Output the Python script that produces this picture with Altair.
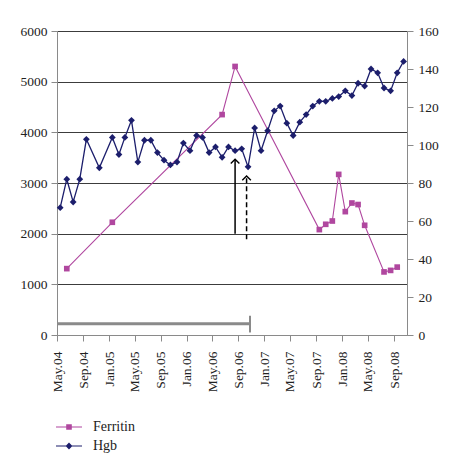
import altair as alt
import pandas as pd

# ---------------- data ----------------
series_names = ["Ferritin", "Hgb"]
series_colors = ["#B0479F", "#1C1E6C"]

hgb_months = [
    "2004-05", "2004-06", "2004-07", "2004-08", "2004-09", "2004-11",
    "2005-01", "2005-02", "2005-03", "2005-04", "2005-05", "2005-06",
    "2005-07", "2005-08", "2005-09", "2005-10", "2005-11", "2005-12",
    "2006-01", "2006-02", "2006-03", "2006-04", "2006-05", "2006-06",
    "2006-07", "2006-08", "2006-09", "2006-10", "2006-11", "2006-12",
    "2007-01", "2007-02", "2007-03", "2007-04", "2007-05", "2007-06",
    "2007-07", "2007-08", "2007-09", "2007-10", "2007-11", "2007-12",
    "2008-01", "2008-02", "2008-03", "2008-04", "2008-05", "2008-06",
    "2008-07", "2008-08", "2008-09", "2008-10",
]
hgb_values = [
    67, 82, 70, 82, 103, 88,
    104, 95, 104, 113, 91, 102.5, 102.5, 96, 92, 89.5, 91, 101,
    97, 105, 104, 96, 99, 93.5, 99, 97, 98, 88.5, 109, 97,
    107.5, 118, 120.5, 111.5, 105, 112, 116, 120.5, 123, 123, 124.5, 125.5,
    128.5, 126, 132.5, 131, 140, 138, 130, 128.5, 138, 144,
]

ferritin_months = [
    "2004-06", "2005-01", "2006-06", "2006-08", "2007-09", "2007-10",
    "2007-11", "2007-12", "2008-01", "2008-02", "2008-03", "2008-04",
    "2008-07", "2008-08", "2008-09",
]
ferritin_values = [1310, 2225, 4350, 5300, 2080, 2185, 2250, 3170, 2435,
                   2605, 2575, 2165, 1245, 1275, 1340]

# annotations (dates and left-axis values)
arrow_solid_date = ["2006-08-16"]
arrow_solid_from = [2000]
arrow_solid_to = [3470]
arrow_dash_date = ["2006-10-09"]
arrow_dash_from = [1890]
arrow_dash_to = [3140]
bar_start = ["2004-05-01"]
bar_end = ["2006-10-25"]
bar_level = [220]
bar_cap_low = [50]
bar_cap_high = [380]

tick_months = [(2004, 5), (2004, 9), (2005, 1), (2005, 5), (2005, 9),
               (2006, 1), (2006, 5), (2006, 9), (2007, 1), (2007, 5),
               (2007, 9), (2008, 1), (2008, 5), (2008, 9)]
left_ticks = [0, 1000, 2000, 3000, 4000, 5000, 6000]
right_ticks = [0, 20, 40, 60, 80, 100, 120, 140, 160]

# ---------------- frames ----------------
hgb_df = pd.DataFrame({"date": [m + "-16" for m in hgb_months], "value": hgb_values})
fer_df = pd.DataFrame({"date": [m + "-16" for m in ferritin_months], "value": ferritin_values})
solid_df = pd.DataFrame({"date": arrow_solid_date, "y1": arrow_solid_from, "y2": arrow_solid_to})
dash_df = pd.DataFrame({"date": arrow_dash_date, "y1": arrow_dash_from, "y2": arrow_dash_to})
bar_df = pd.DataFrame({"start": bar_start, "end": bar_end, "level": bar_level,
                       "lo": bar_cap_low, "hi": bar_cap_high})
legend_df = pd.DataFrame({"series": series_names})

FONT = "Liberation Serif"

xscale = alt.Scale(type="utc", domain=[alt.DateTime(year=2004, month=5, date=1, utc=True),
                                        alt.DateTime(year=2008, month=11, date=1, utc=True)])
xaxis = alt.Axis(values=[alt.DateTime(year=y, month=m, date=1, utc=True) for y, m in tick_months],
                 format="%b.%y", labelAngle=270, tickSize=6, labelPadding=10,
                 grid=False, title=None)
lscale = alt.Scale(domain=[0, 6000])
rscale = alt.Scale(domain=[0, 160])
laxis = alt.Axis(values=left_ticks, format="d", grid=True, gridColor="#3c3c3c",
                 gridWidth=1, tickSize=6, labelPadding=4, title=None, orient="left")
raxis = alt.Axis(values=right_ticks, format="d", grid=False, tickSize=6,
                 labelPadding=5, title=None, orient="right")

W, H = 350, 304


def X(field):
    return alt.X(field, scale=xscale, axis=xaxis)


def YL(field):
    return alt.Y(field, scale=lscale, axis=laxis)


def YR(field):
    return alt.Y(field, scale=rscale, axis=raxis)


fer_line = alt.Chart(fer_df).mark_line(color=series_colors[0], strokeWidth=1.1).encode(
    x=X("date:T"), y=YL("value:Q"),
)
fer_pts = alt.Chart(fer_df).mark_point(shape="square", filled=True, size=32, opacity=1,
                                       color=series_colors[0]).encode(
    x=X("date:T"), y=YL("value:Q"),
)
solid_rule = alt.Chart(solid_df).mark_rule(color="black", strokeWidth=1.5).encode(
    x=X("date:T"), y=YL("y1:Q"), y2="y2:Q",
)
solid_head = alt.Chart(solid_df).mark_point(shape="M-1,1L0,0L1,1", filled=False, size=74,
                                            color="black", strokeWidth=1.4, opacity=1).encode(
    x=X("date:T"), y=YL("y2:Q"),
)
dash_rule = alt.Chart(dash_df).mark_rule(color="black", strokeWidth=1.5, strokeDash=[5, 3]).encode(
    x=X("date:T"), y=YL("y1:Q"), y2="y2:Q",
)
dash_head = alt.Chart(dash_df).mark_point(shape="M-1,1L0,0L1,1", filled=False, size=74,
                                          color="black", strokeWidth=1.4, opacity=1).encode(
    x=X("date:T"), y=YL("y2:Q"),
)
bar = alt.Chart(bar_df).mark_rule(color="#8a8a8a", strokeWidth=3).encode(
    x=X("start:T"), x2="end:T", y=YL("level:Q"),
)
bar_cap = alt.Chart(bar_df).mark_rule(color="#8a8a8a", strokeWidth=2).encode(
    x=X("end:T"), y=YL("lo:Q"), y2="hi:Q",
)

legend_paths = [
    "M-3.25,-0.13H3.25V0.13H-3.25Z M-0.7,-0.7H0.7V0.7H-0.7Z",
    "M-3.25,-0.13H3.25V0.13H-3.25Z M0,-0.85L0.85,0L0,0.85L-0.85,0Z",
]
leg = alt.Legend(title=None, orient="none", legendX=5, legendY=389, labelOffset=17,
                 symbolSize=64, labelFont=FONT, labelFontSize=14, labelColor="#222",
                 rowPadding=5, symbolOpacity=1, symbolStrokeWidth=0)
legend_layer = alt.Chart(legend_df).mark_point(filled=True, opacity=0).encode(
    color=alt.Color("series:N", scale=alt.Scale(domain=series_names, range=series_colors), legend=leg),
    shape=alt.Shape("series:N", scale=alt.Scale(domain=series_names, range=legend_paths), legend=leg),
)

left = alt.layer(fer_line, bar, bar_cap, fer_pts, solid_rule, solid_head, dash_rule, dash_head,
                 legend_layer)

hgb_line = alt.Chart(hgb_df).mark_line(color=series_colors[1], strokeWidth=1.3).encode(
    x=X("date:T"), y=YR("value:Q"),
)
hgb_pts = alt.Chart(hgb_df).mark_point(shape="diamond", filled=True, size=46, opacity=1,
                                       color=series_colors[1]).encode(
    x=X("date:T"), y=YR("value:Q"),
)
right = alt.layer(hgb_line, hgb_pts)

chart = alt.layer(left, right).resolve_scale(y="independent").properties(
    width=W, height=H,
    padding={"left": 12, "top": 16, "right": 5, "bottom": 0},
).configure_view(stroke=None).configure_axis(
    labelFont=FONT, labelFontSize=13.5, labelColor="#222",
    domainColor="#8a8a8a", tickColor="#8a8a8a", domainWidth=1, tickWidth=1,
)

chart.save("out.html", embed_options={"renderer": "svg", "actions": False})
